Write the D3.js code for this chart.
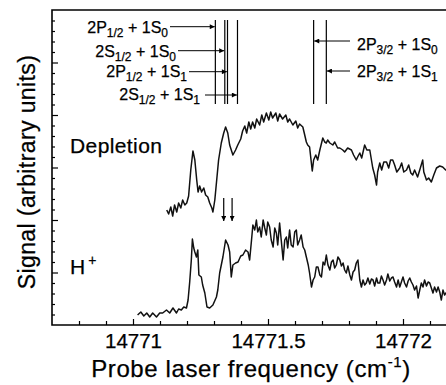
<!DOCTYPE html>
<html>
<head>
<meta charset="utf-8">
<script src="https://cdn.jsdelivr.net/npm/d3@7"></script>
<style>
  body { margin: 0; background: #fff; }
  text { font-family: "Liberation Sans", Arial, Helvetica, sans-serif; fill: #000; stroke: #000; stroke-width: 0.25px; }
</style>
</head>
<body>
<div id="chart"></div>
<script>
// Depletion trace: [frequency (cm-1), signal (arb.)]
const depletion = [
  [14771.125,115],[14771.132,111],[14771.140,118],[14771.147,109],[14771.154,120],[14771.162,113],
  [14771.169,122],[14771.177,117],[14771.184,125],[14771.192,120],[14771.199,122],[14771.206,129],
  [14771.214,155],[14771.222,174],[14771.229,165],[14771.236,145],[14771.241,133],[14771.247,139],
  [14771.254,133],[14771.262,137],[14771.269,130],[14771.277,128],[14771.284,122],[14771.292,117],
  [14771.296,113],[14771.303,125],[14771.310,145],[14771.317,165],[14771.327,182],[14771.336,192],
  [14771.343,198],[14771.351,192],[14771.358,180],[14771.370,170],[14771.380,175],[14771.388,180],
  [14771.399,186],[14771.406,194],[14771.414,199],[14771.421,192],[14771.429,203],[14771.436,196],
  [14771.443,203],[14771.451,197],[14771.458,206],[14771.469,200],[14771.477,210],[14771.484,203],
  [14771.494,212],[14771.503,205],[14771.510,213],[14771.517,207],[14771.529,212],[14771.536,204],
  [14771.543,211],[14771.554,206],[14771.566,210],[14771.573,203],[14771.580,206],[14771.592,200],
  [14771.603,204],[14771.610,197],[14771.617,201],[14771.629,198],[14771.636,190],[14771.642,183],
  [14771.647,180],[14771.654,178],[14771.664,154],[14771.669,165],[14771.677,170],[14771.684,165],
  [14771.692,175],[14771.703,187],[14771.710,183],[14771.716,182],[14771.721,185],[14771.729,182],
  [14771.740,180],[14771.747,183],[14771.758,177],[14771.766,177],[14771.777,175],[14771.784,173],
  [14771.795,177],[14771.809,175],[14771.817,170],[14771.827,165],[14771.832,168],[14771.840,172],
  [14771.847,167],[14771.858,180],[14771.866,175],[14771.877,175],[14771.888,157],[14771.895,150],
  [14771.902,140],[14771.906,153],[14771.914,162],[14771.921,155],[14771.929,163],[14771.939,163],
  [14771.947,157],[14771.954,165],[14771.962,165],[14771.969,160],[14771.977,153],[14771.988,157],
  [14771.995,162],[14772.003,153],[14772.013,155],[14772.021,160],[14772.029,152],[14772.036,150],
  [14772.043,155],[14772.054,148],[14772.062,155],[14772.073,165],[14772.077,153],[14772.087,145],
  [14772.095,147],[14772.105,143],[14772.114,150],[14772.124,157],[14772.136,159],[14772.147,158],
  [14772.158,155],[14772.173,157]
];

// H+ trace: [frequency (cm-1), signal (arb.)]
const hplus = [
  [14771.017,10],[14771.029,13],[14771.040,9],[14771.051,12],[14771.062,8],[14771.073,12],
  [14771.087,8],[14771.099,12],[14771.110,12],[14771.124,15],[14771.136,12],[14771.148,17],
  [14771.161,12],[14771.169,16],[14771.179,15],[14771.188,18],[14771.198,17],[14771.204,25],
  [14771.210,43],[14771.216,65],[14771.220,86],[14771.225,77],[14771.229,73],[14771.235,68],
  [14771.240,75],[14771.244,50],[14771.253,48],[14771.258,40],[14771.266,32],[14771.274,18],
  [14771.284,17],[14771.296,20],[14771.309,28],[14771.314,35],[14771.321,52],[14771.333,68],
  [14771.343,85],[14771.352,80],[14771.358,73],[14771.364,48],[14771.370,60],[14771.380,62],
  [14771.389,63],[14771.399,69],[14771.407,70],[14771.417,75],[14771.426,73],[14771.432,65],
  [14771.439,85],[14771.444,100],[14771.451,95],[14771.457,105],[14771.462,93],[14771.469,98],
  [14771.475,88],[14771.482,105],[14771.488,97],[14771.494,90],[14771.499,103],[14771.506,98],
  [14771.512,85],[14771.519,78],[14771.525,97],[14771.531,92],[14771.536,80],[14771.543,102],
  [14771.549,85],[14771.556,65],[14771.562,85],[14771.568,88],[14771.573,77],[14771.580,95],
  [14771.586,80],[14771.593,78],[14771.599,93],[14771.605,95],[14771.610,80],[14771.617,85],
  [14771.623,90],[14771.630,78],[14771.636,75],[14771.642,68],[14771.649,60],[14771.654,52],
  [14771.661,38],[14771.667,45],[14771.673,48],[14771.679,58],[14771.685,58],[14771.692,50],
  [14771.698,48],[14771.704,63],[14771.710,60],[14771.716,70],[14771.722,60],[14771.729,55],
  [14771.735,63],[14771.741,65],[14771.747,57],[14771.753,60],[14771.759,68],[14771.766,65],
  [14771.772,59],[14771.778,62],[14771.784,55],[14771.790,52],[14771.796,59],[14771.803,50],
  [14771.809,45],[14771.815,53],[14771.821,55],[14771.827,62],[14771.833,65],[14771.840,45],
  [14771.846,38],[14771.852,45],[14771.858,40],[14771.864,42],[14771.870,47],[14771.877,41],
  [14771.883,46],[14771.889,45],[14771.895,39],[14771.902,47],[14771.907,42],[14771.914,42],
  [14771.920,49],[14771.926,45],[14771.932,40],[14771.939,45],[14771.944,51],[14771.951,44],
  [14771.957,47],[14771.963,48],[14771.969,43],[14771.976,38],[14771.982,45],[14771.988,38],
  [14771.994,43],[14772.000,48],[14772.006,42],[14772.013,38],[14772.019,44],[14772.025,47],
  [14772.031,43],[14772.037,40],[14772.043,35],[14772.050,39],[14772.056,27],[14772.062,35],
  [14772.068,42],[14772.074,38],[14772.080,45],[14772.087,39],[14772.093,43],[14772.099,42],
  [14772.105,37],[14772.111,32],[14772.117,38],[14772.124,33],[14772.130,38],[14772.136,33],
  [14772.142,25],[14772.148,35],[14772.154,30],[14772.162,33]
];

// transition frequencies and their labels [main, sub, main, sub]
const transitionFreq = [14771.305, 14771.340, 14771.350, 14771.387, 14771.669, 14771.716];
const transitionLabels = [
  ["2P", "1/2", " + 1S", "0"],
  ["2S", "1/2", " + 1S", "0"],
  ["2P", "1/2", " + 1S", "1"],
  ["2S", "1/2", " + 1S", "1"],
  ["2P", "3/2", " + 1S", "0"],
  ["2P", "3/2", " + 1S", "1"]
];
// small down arrows between the traces
const markerFreq = [14771.336, 14771.367];

const xMajorTicks = [14771, 14771.5, 14772];
const xTickLabels = ["14771", "14771.5", "14772"];
const xMinorTicks = [14770.8, 14770.9, 14771.1, 14771.2, 14771.3, 14771.4, 14771.6,
                     14771.7, 14771.8, 14771.9, 14772.1];

(function() {
    let width = 446,
        height = 385;
    let left = 52, top = 10, bottom = 325;

    let svg = d3.select("#chart")
        .append("svg")
        .attr("width", width)
        .attr("height", height);

    let x = d3.scaleLinear()
        .domain([14770.7, 14772.2])
        .range([left, left + 405]);

    let y = d3.scaleLinear()
        .domain([0, 315])
        .range([bottom, top]);

    svg.append("defs").append("marker")
        .attr("id", "head")
        .attr("markerUnits", "userSpaceOnUse")
        .attr("viewBox", "0 0 10 10")
        .attr("refX", 10).attr("refY", 5)
        .attr("markerWidth", 6).attr("markerHeight", 5)
        .attr("orient", "auto")
        .append("path")
        .attr("d", "M0,0L10,5L0,10z")
        .attr("fill", "#000");

    // y ticks, pointing inward
    let yMinor = d3.range(1, 30).filter(k => k % 5 != 0).map(k => k * 10.5);
    let yMajor = d3.range(5, 30, 5).map(k => k * 10.5);
    svg.append("g")
        .attr("transform", `translate(${left}, 0)`)
        .call(d3.axisLeft(y).tickValues(yMinor).tickSize(-3).tickFormat(""))
        .call(g => g.select(".domain").remove());
    svg.append("g")
        .attr("transform", `translate(${left}, 0)`)
        .call(d3.axisLeft(y).tickValues(yMajor).tickSize(-6).tickFormat(""))
        .call(g => g.select(".domain").remove());

    // x ticks
    svg.append("g")
        .attr("transform", `translate(0, ${bottom})`)
        .call(d3.axisBottom(x).tickValues(xMinorTicks).tickSize(-4).tickFormat(""))
        .call(g => g.select(".domain").remove());
    svg.append("g")
        .attr("transform", `translate(0, ${bottom})`)
        .call(d3.axisBottom(x).tickValues(xMajorTicks).tickSize(-6).tickPadding(8)
            .tickFormat((d, i) => xTickLabels[i]))
        .call(g => g.select(".domain").remove())
        .selectAll("text")
        .style("font-size", "20.5px");

    svg.selectAll(".tick line").attr("stroke", "#000").attr("stroke-width", 1.2);

    // frame
    svg.append("path")
        .attr("d", `M${width},${top}H${left}V${bottom}H${width}`)
        .attr("fill", "none")
        .attr("stroke", "#000")
        .attr("stroke-width", 1.6);

    let line = d3.line()
        .x(d => x(d[0]))
        .y(d => y(d[1]));

    [depletion, hplus].forEach(series => {
        svg.append("path")
            .datum(series)
            .attr("d", line)
            .attr("fill", "none")
            .attr("stroke", "#111")
            .attr("stroke-width", 1.5)
            .attr("stroke-linejoin", "round");
    });

    // transition lines
    svg.selectAll(".trans")
        .data(transitionFreq)
        .enter().append("line")
        .attr("x1", d => x(d)).attr("x2", d => x(d))
        .attr("y1", y(305)).attr("y2", y(221))
        .attr("stroke", "#000")
        .attr("stroke-width", 1.2);

    // label layout: [text anchor x, baseline y, arrow start x, arrow y]
    let labelPos = [
        [168, 33, 170, 26.7],
        [176, 57, 178, 50.7],
        [187, 77, 189, 71.7],
        [200, 100, 205, 95],
        [357, 50, 350, 41],
        [357, 77, 350, 71]
    ];

    transitionLabels.forEach((parts, i) => {
        let p = labelPos[i];
        let t = svg.append("text")
            .attr("x", p[0])
            .attr("y", p[1])
            .attr("text-anchor", i < 4 ? "end" : "start")
            .style("font-size", "16px");
        t.append("tspan").text(parts[0]);
        t.append("tspan").attr("dy", 4).style("font-size", "12px").text(parts[1]);
        t.append("tspan").attr("dy", -4).style("white-space", "pre").text(parts[2]);
        t.append("tspan").attr("dy", 4).style("font-size", "12px").text(parts[3]);

        let xEnd = x(transitionFreq[i]) + (i < 4 ? -0.6 : 0.6);
        svg.append("line")
            .attr("x1", p[2]).attr("x2", xEnd)
            .attr("y1", p[3]).attr("y2", p[3])
            .attr("stroke", "#000")
            .attr("stroke-width", 1)
            .attr("marker-end", "url(#head)");
    });

    // down arrows
    svg.selectAll(".mark")
        .data(markerFreq)
        .enter().append("line")
        .attr("x1", d => x(d)).attr("x2", d => x(d))
        .attr("y1", y(127)).attr("y2", y(104))
        .attr("stroke", "#000")
        .attr("stroke-width", 1.2)
        .attr("marker-end", "url(#head)");

    // trace labels
    svg.append("text")
        .attr("x", 70).attr("y", 153)
        .style("font-size", "21px")
        .style("letter-spacing", "0.4px")
        .text("Depletion");
    let hl = svg.append("text")
        .attr("x", 70).attr("y", 274)
        .style("font-size", "21px");
    hl.append("tspan").text("H");
    hl.append("tspan").attr("dx", 3).attr("dy", -9).style("font-size", "14px").text("+");

    // axis titles
    let xt = svg.append("text")
        .attr("x", 251).attr("y", 377)
        .attr("text-anchor", "middle")
        .style("font-size", "24px")
        .style("letter-spacing", "0.6px");
    xt.append("tspan").text("Probe laser frequency (cm");
    xt.append("tspan").attr("dy", -10).style("font-size", "15px").text("-1");
    xt.append("tspan").attr("dy", 10).text(")");

    svg.append("text")
        .attr("transform", `translate(35, 172) rotate(-90)`)
        .attr("text-anchor", "middle")
        .style("font-size", "23px")
        .style("letter-spacing", "0.4px")
        .text("Signal (arbitrary units)");
})();
</script>
</body>
</html>
